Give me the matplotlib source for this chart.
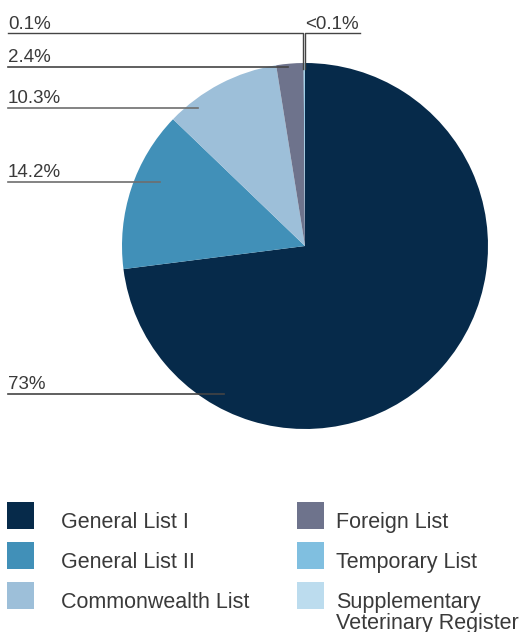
import matplotlib
matplotlib.use('Agg')
import matplotlib.pyplot as plt
from matplotlib.patches import Rectangle

categories = ['General List I', 'General List II', 'Commonwealth List',
              'Foreign List', 'Temporary List', 'Supplementary\nVeterinary Register']
values = [73.0, 14.2, 10.3, 2.4, 0.1, 0.02]
labels = ['73%', '14.2%', '10.3%', '2.4%', '0.1%', '<0.1%']
colors = ['#062a4a', '#4190b8', '#9dbfd9', '#6e738c', '#80bfe0', '#bcdcee']

W, H = 523, 632
plt.rcParams['font.family'] = ['Liberation Sans', 'DejaVu Sans']
fig = plt.figure(figsize=(W / 100, H / 100), dpi=100)
ax = fig.add_axes([0, 0, 1, 1])


def py(y):
    # pixel row (from top) to data y
    return H - y


cx, cy, r = 305, 246, 183
ax.pie(values, colors=colors, startangle=90, counterclock=False,
       center=(cx, py(cy)), radius=r, frame=True,
       wedgeprops=dict(linewidth=0))
ax.set_xlim(0, W)
ax.set_ylim(0, H)
ax.set_aspect('auto')
ax.axis('off')

txt_col = '#3a3a3a'
# leader lines: label row y, line end x, line colour
leaders = {'73%': (394, 224, '#444444'), '14.2%': (182, 160, '#6e6e6e'),
           '10.3%': (108, 198, '#6e6e6e'), '2.4%': (67, 288, '#444444')}
for lab in labels:
    if lab in leaders:
        ly, ex, lc = leaders[lab]
        ax.plot([8, ex], [py(ly), py(ly)], color=lc, lw=1.2)
        ax.text(8, py(ly - 5), lab, fontsize=13.5, color=txt_col, va='baseline')

# tiny slices at the top
ax.plot([8, 302.5, 302.5], [py(33), py(33), py(69)], color='#444444', lw=1.0)
ax.text(8, py(29), labels[4], fontsize=13.5, color=txt_col, va='baseline')
ax.plot([360, 304.5, 304.5], [py(33), py(33), py(69)], color='#444444', lw=1.0)
ax.text(305, py(29), labels[5], fontsize=13.5, color=txt_col, va='baseline')

# legend
for i, (cat, col) in enumerate(zip(categories, colors)):
    column, row = divmod(i, 3)
    sx = 7 if column == 0 else 297
    tx = 61 if column == 0 else 336
    top = 502 + row * 40
    ax.add_patch(Rectangle((sx, py(top + 27)), 27, 27, color=col, lw=0))
    for k, part in enumerate(cat.split('\n')):
        ax.text(tx, py(top + 26 + k * 21), part, fontsize=15.5,
                color=txt_col, va='baseline')

fig.savefig('out.png', dpi=100)
